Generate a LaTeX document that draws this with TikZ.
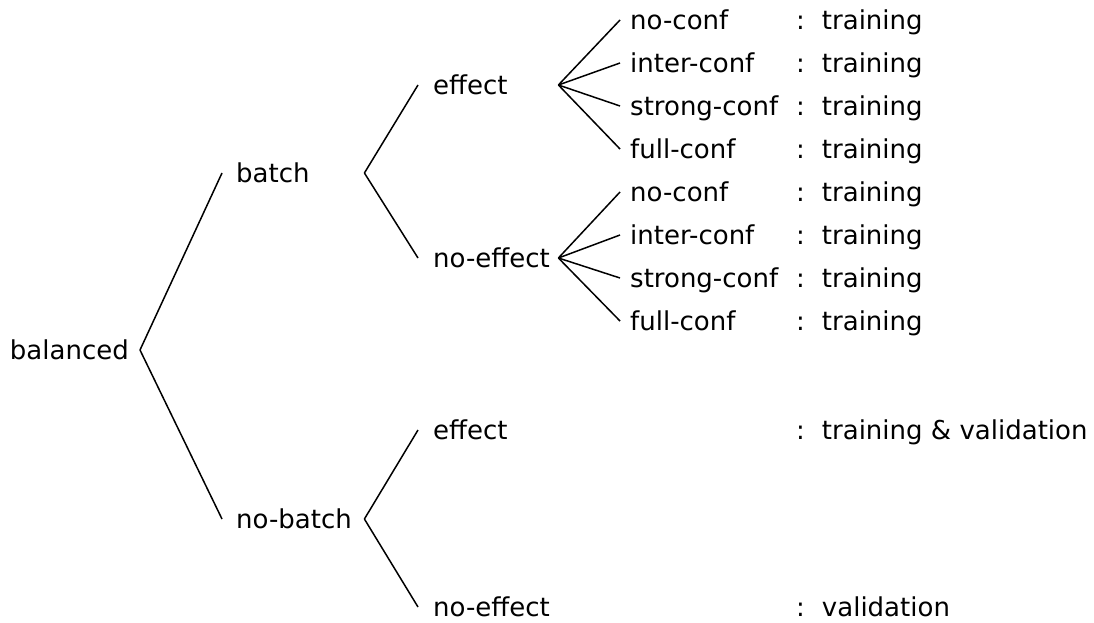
\documentclass[tikz,border=0pt]{standalone}
\usepackage{fontspec}
\setmainfont{DejaVu Sans}
\usetikzlibrary{positioning}
\exhyphenpenalty=10000
\tikzset{
  treetext/.style={inner ysep=0pt, text height=22pt, text depth=3pt},
  rootnode/.style={treetext, anchor=east, inner xsep=11pt},
  levelone/.style={treetext, anchor=west, inner xsep=14pt, text width=114pt, align=left},
  leveltwo/.style={treetext, anchor=west, inner xsep=15pt, text width=110pt, align=left},
  leafnode/.style={treetext, anchor=west, inner xsep=10pt},
  outcome/.style={treetext, anchor=west, inner xsep=0pt},
  branch/.style={draw=black, line width=1.5pt},
}

\begin{document}
\begin{tikzpicture}[x=1pt, y=-1pt, font=\fontsize{26}{30}\selectfont]
  \useasboundingbox (0,0) rectangle (1094,623);
  % tree
  \node[rootnode] (balanced) at (140,350) {balanced};
  \node[levelone] (batch) at (222,173) {batch};
  \node[levelone] (nobatch) at (222,519) {no-batch};
  \node[leveltwo] (effA) at (418,85) {effect};
  \node[leveltwo] (noeffA) at (418,258) {no-effect};
  \node[leveltwo] (effB) at (418,430) {effect};
  \node[leveltwo] (noeffB) at (418,607) {no-effect};
  % confounding leaves
  \node[leafnode] (a1) at (620,20) {no-conf};
  \node[leafnode] (a2) at (620,63) {inter-conf};
  \node[leafnode] (a3) at (620,106) {strong-conf};
  \node[leafnode] (a4) at (620,149) {full-conf};
  \node[leafnode] (b1) at (620,192) {no-conf};
  \node[leafnode] (b2) at (620,235) {inter-conf};
  \node[leafnode] (b3) at (620,278) {strong-conf};
  \node[leafnode] (b4) at (620,321) {full-conf};
  % outcomes
  \node[outcome] (ra1) at (796,20) {:\hspace{17pt}training};
  \node[outcome] (ra2) at (796,63) {:\hspace{17pt}training};
  \node[outcome] (ra3) at (796,106) {:\hspace{17pt}training};
  \node[outcome] (ra4) at (796,149) {:\hspace{17pt}training};
  \node[outcome] (rb1) at (796,192) {:\hspace{17pt}training};
  \node[outcome] (rb2) at (796,235) {:\hspace{17pt}training};
  \node[outcome] (rb3) at (796,278) {:\hspace{17pt}training};
  \node[outcome] (rb4) at (796,321) {:\hspace{17pt}training};
  \node[outcome] (reffB) at (796,430) {:\hspace{17pt}training \& validation};
  \node[outcome] (rnoeffB) at (796,607) {:\hspace{17pt}validation};
  % branches
  \draw[branch] (balanced.east) -- (batch.west);
  \draw[branch] (balanced.east) -- (nobatch.west);
  \draw[branch] (batch.east) -- (effA.west);
  \draw[branch] (batch.east) -- (noeffA.west);
  \draw[branch] (nobatch.east) -- (effB.west);
  \draw[branch] (nobatch.east) -- (noeffB.west);
  \foreach \l in {a1,a2,a3,a4}
    \draw[branch] (effA.east) -- (\l.west);
  \foreach \l in {b1,b2,b3,b4}
    \draw[branch] (noeffA.east) -- (\l.west);
\end{tikzpicture}
\end{document}
